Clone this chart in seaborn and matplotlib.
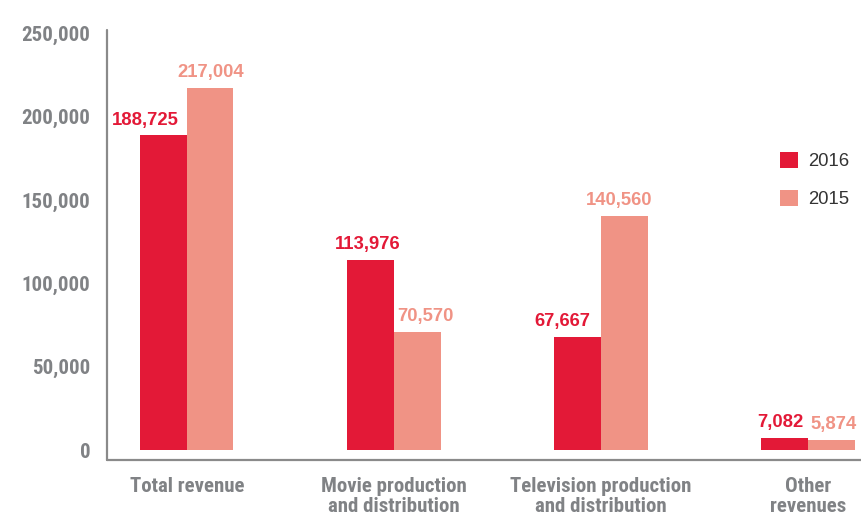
import seaborn as sns
import pandas as pd
import matplotlib
matplotlib.use('Agg')
import matplotlib.pyplot as plt

categories = ["Total revenue", "Movie production\nand distribution",
              "Television production\nand distribution", "Other\nrevenues"]
years = ["2016", "2015"]
values_2016 = [188725, 113976, 67667, 7082]
values_2015 = [217004, 70570, 140560, 5874]
y_ticks = [0, 50000, 100000, 150000, 200000, 250000]

colors = {"2016": "#e31937", "2015": "#f09385"}
gray = "#808285"

df = pd.DataFrame({
    "category": categories * 2,
    "year": ["2016"] * 4 + ["2015"] * 4,
    "value": values_2016 + values_2015,
})

sns.set_style("white")
narrow = ["Roboto Condensed", "Roboto", "DejaVu Sans"]
plt.rcParams['font.family'] = ["Liberation Sans", "DejaVu Sans"]

fig = plt.figure(figsize=(8.61, 5.2), dpi=100)
ax = fig.add_axes([107 / 861, 60 / 520, 754 / 861, 430 / 520])

sns.barplot(data=df, x="category", y="value", hue="year", hue_order=years,
            palette=colors, width=0.45, gap=0, saturation=1, ax=ax,
            order=categories, errorbar=None, linewidth=0)

ax.set_ylim(-6000, 252000)
ax.set_xlim(-0.386, 3.256)
ax.set_yticks(y_ticks)
ax.set_yticklabels([f"{v:,}" for v in y_ticks], family=narrow,
                   fontweight="bold", fontstretch="condensed", fontsize=15,
                   color=gray)
ax.set_xticks(range(len(categories)))
ax.set_xticklabels(categories, family=narrow, fontweight="bold",
                   fontstretch="condensed", fontsize=15, color=gray,
                   linespacing=1.1)
ax.tick_params(axis="y", length=0, pad=12)
ax.tick_params(axis="x", length=0, pad=12)
ax.set_xlabel("")
ax.set_ylabel("")

for side in ["top", "right"]:
    ax.spines[side].set_visible(False)
for side in ["left", "bottom"]:
    ax.spines[side].set_color("#8a8a8a")
    ax.spines[side].set_linewidth(1.6)
    ax.spines[side].set_capstyle("round")

# value labels above bars (small horizontal nudges as in the original)
offsets = {"2016": [-13, -2, -11, -3], "2015": [0, 6, -4, 2]}
for container, year in zip(ax.containers, years):
    for i, bar in enumerate(container):
        h = bar.get_height()
        ax.annotate(f"{int(h):,}", (bar.get_x() + bar.get_width() / 2, h),
                    xytext=(offsets[year][i], 5), textcoords="offset points",
                    ha="center", va="bottom", fontsize=13.3,
                    fontweight="bold", color=colors[year])

handles, labels = ax.get_legend_handles_labels()
ax.legend(handles, labels, loc="center left", bbox_to_anchor=(0.893, 0.651),
          frameon=False, handlelength=0.95, handleheight=0.95,
          handletextpad=0.55, labelspacing=1.05, borderpad=0, borderaxespad=0,
          prop={"size": 13.3}, labelcolor="#333333")

fig.savefig("out.png", dpi=100)
